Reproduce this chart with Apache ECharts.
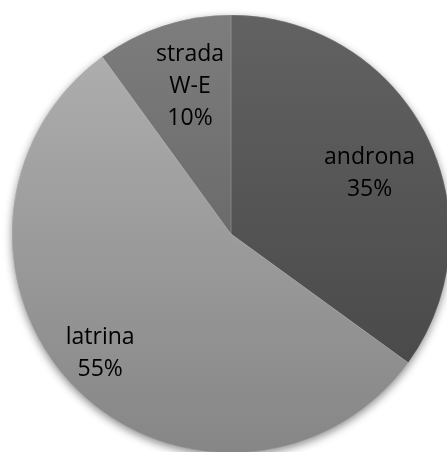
<!DOCTYPE html>
<html>
<head>
<meta charset="utf-8">
<script src="https://cdn.jsdelivr.net/npm/echarts@6/dist/echarts.min.js"></script>
<style>
  html, body { margin: 0; padding: 0; background: #ffffff; }
  #chart { width: 447px; height: 452px; }
</style>
</head>
<body>
<div id="chart"></div>
<script>
// Share of finds by area
const categories = ['androna', 'latrina', 'strada W-E'];
const shares = [35, 55, 10];

// Per-slice fill: vertical gradient, lighter at top
const sliceTop = ['#626262', '#adadad', '#7d7d7d'];
const sliceBottom = ['#4a4a4a', '#868686', '#6b6b6b'];
// Label placement: distance from centre (fraction of radius) and angular nudge (degrees, clockwise)
const labelDist = [0.69, 0.81, 0.70];
const labelTurn = [3.5, 2.5, 2.5];

const CX = 231, CY = 234, R = 219;

const chart = echarts.init(document.getElementById('chart'), null, { renderer: 'canvas' });

const data = categories.map((name, i) => ({
  name,
  value: shares[i],
  itemStyle: {
    color: new echarts.graphic.LinearGradient(0, 0, 0, 1, [
      { offset: 0, color: sliceTop[i] },
      { offset: 1, color: sliceBottom[i] }
    ])
  }
}));

chart.setOption({
  animation: false,
  backgroundColor: '#ffffff',
  series: [
    {
      // soft drop shadow under the whole disc
      type: 'pie',
      silent: true,
      z: 1,
      center: [CX, CY],
      radius: R,
      label: { show: false },
      labelLine: { show: false },
      data: [{ value: 1, itemStyle: { color: '#999999' } }],
      itemStyle: {
        shadowBlur: 8,
        shadowOffsetX: 0,
        shadowOffsetY: 3,
        shadowColor: 'rgba(0,0,0,0.45)'
      }
    },
    {
      type: 'pie',
      z: 2,
      center: [CX, CY],
      radius: R,
      startAngle: 90,
      clockwise: true,
      avoidLabelOverlap: false,
      itemStyle: { borderColor: 'rgba(255,255,255,0.25)', borderWidth: 0.6 },
      label: {
        show: true,
        position: 'inside',
        color: '#000000',
        fontFamily: 'Open Sans',
        fontSize: 23,
        lineHeight: 32,
        align: 'center',
        formatter: p => p.name.replace(' ', '\n') + '\n' + p.value + '%'
      },
      labelLine: { show: false },
      labelLayout: function (p) {
        // keep the slice's own direction, then push outward and nudge clockwise
        const r = p.labelRect;
        const lx = r.x + r.width / 2;
        const ly = r.y + r.height / 2;
        const i = p.dataIndex;
        const a = Math.atan2(lx - CX, CY - ly) + labelTurn[i] * Math.PI / 180;
        const d = labelDist[i] * R;
        return { x: CX + d * Math.sin(a), y: CY - d * Math.cos(a) };
      },
      data
    }
  ]
});
</script>
</body>
</html>
